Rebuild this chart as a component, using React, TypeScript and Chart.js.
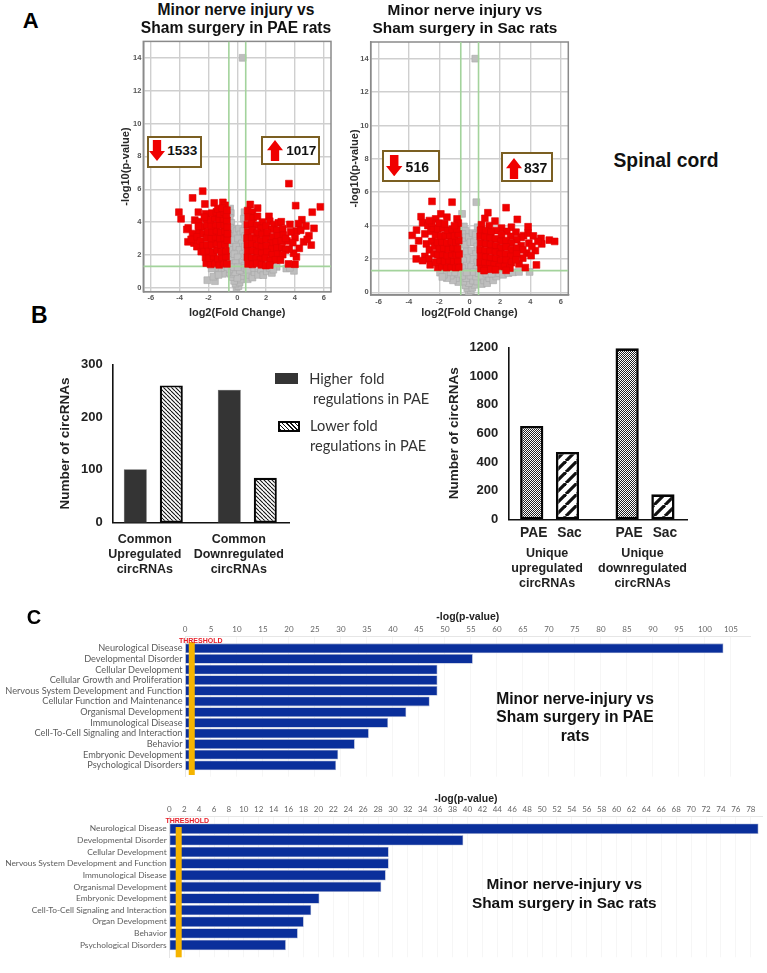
import React, { useEffect, useRef } from "react";
import { Chart, registerables } from "chart.js";

Chart.register(...registerables);

type Pt = [number, number];

// ---------- Panel A: volcano plots (log2 fold change, -log10 p) ----------
const logFcCut = 0.585;
const pCut = 1.3;

const paeDown: Pt[] = [
  [-2.4, 5.88], [-3.1, 5.47], [-2.25, 5.1], [-1.6, 5.17], [-1.0, 5.2], [-0.85, 5.02], [-2.7, 4.6], [-4.05, 4.6], [-3.9, 4.2],
  [-3.4, 3.65], [-3.5, 3.55], [-3.42, 2.8], [-2.95, 4.12], [-2.65, 4.02], [-3.1, 3.3], [-3.0, 2.72], [-2.8, 2.5], [-2.65, 3.4],
  [-2.2, 4.5], [-2.42, 3.72], [-2.5, 2.2], [-3.2, 2.95], [-2.78, 3.1], [-2.55, 2.85], [-2.7, 3.75], [-2.35, 3.3], [-2.38, 2.55],
  [-2.15, 1.5], [-1.85, 1.42], [-1.55, 1.48], [-1.25, 1.4], [-0.95, 1.5], [-0.72, 1.45],
  [-2.2, 1.85], [-1.95, 1.8], [-1.65, 1.9], [-1.35, 1.78], [-1.05, 1.85], [-0.78, 1.9],
  [-2.3, 2.2], [-2.0, 2.25], [-1.7, 2.15], [-1.4, 2.3], [-1.1, 2.2], [-0.8, 2.25],
  [-2.1, 2.62], [-1.78, 2.6], [-1.45, 2.7], [-1.15, 2.6], [-0.85, 2.65],
  [-2.12, 3.05], [-1.8, 3.0], [-1.5, 3.1], [-1.2, 3.0], [-0.9, 3.05], [-0.7, 2.9],
  [-2.05, 3.42], [-1.75, 3.4], [-1.45, 3.48], [-1.15, 3.38], [-0.85, 3.45], [-0.68, 3.3],
  [-2.1, 3.82], [-1.8, 3.78], [-1.5, 3.85], [-1.2, 3.8], [-0.9, 3.82], [-0.7, 3.7],
  [-2.15, 4.2], [-1.85, 4.15], [-1.55, 4.25], [-1.25, 4.18], [-0.95, 4.2], [-0.72, 4.1],
  [-1.75, 4.55], [-1.45, 4.62], [-1.2, 4.5], [-0.9, 4.6], [-0.75, 4.45], [-1.35, 4.8], [-1.05, 4.85], [-0.72, 4.72], [-2.28, 4.3]
];

const paeUp: Pt[] = [
  [3.58, 6.34], [5.76, 4.93], [5.2, 4.6], [4.05, 5.0], [0.9, 5.07], [1.41, 4.85], [2.2, 4.35], [4.48, 4.14], [4.76, 3.76],
  [5.32, 3.62], [4.97, 3.17], [5.13, 2.6], [3.65, 3.86], [4.25, 3.9], [4.1, 1.88], [4.0, 1.43], [3.55, 1.45], [4.6, 2.8],
  [4.85, 2.95], [4.3, 2.4], [3.9, 2.1], [3.6, 2.35], [4.1, 3.45], [4.0, 3.05], [3.7, 3.4], [4.4, 3.5], [3.45, 2.85], [3.85, 2.75],
  [0.72, 4.7], [1.05, 4.6], [0.75, 4.3], [1.1, 4.25], [1.4, 4.35], [1.75, 4.0], [2.25, 4.05], [2.55, 3.85], [2.85, 3.95], [3.05, 4.02],
  [0.7, 3.85], [1.0, 3.9], [1.35, 3.8], [1.65, 3.62], [2.0, 3.75], [2.4, 3.55], [2.75, 3.5], [3.15, 3.6],
  [0.72, 3.42], [1.05, 3.5], [1.38, 3.35], [1.72, 3.25], [2.08, 3.35], [2.45, 3.1], [2.8, 3.15], [3.2, 3.2],
  [0.68, 3.02], [1.0, 3.05], [1.3, 2.95], [1.65, 2.85], [2.0, 2.95], [2.35, 2.72], [2.7, 2.78], [3.05, 2.85], [3.35, 3.0],
  [0.7, 2.62], [1.02, 2.65], [1.35, 2.55], [1.68, 2.48], [2.02, 2.55], [2.4, 2.35], [2.75, 2.42], [3.1, 2.45], [3.35, 2.3],
  [0.72, 2.22], [1.05, 2.25], [1.38, 2.15], [1.7, 2.1], [2.05, 2.15], [2.42, 2.0], [2.8, 2.05], [3.15, 2.02],
  [0.7, 1.85], [1.0, 1.82], [1.32, 1.78], [1.62, 1.72], [1.95, 1.8], [2.3, 1.65], [2.65, 1.7], [3.0, 1.68],
  [0.75, 1.45], [1.05, 1.42], [1.35, 1.48], [1.68, 1.4], [1.98, 1.35], [2.25, 1.38]
];

const paeNs: Pt[] = [
  [0.37, 14.0], [-0.5, 4.82], [-0.45, 4.55], [-0.52, 4.25], [-0.42, 3.95], [-0.5, 3.65], [-0.55, 3.2], [-0.42, 3.0], [-0.5, 2.6],
  [-0.38, 2.3], [-0.52, 1.95], [-0.3, 1.7], [-0.5, 1.45], [-0.18, 3.55], [-0.05, 3.45], [0.1, 3.6], [0.22, 3.25], [-0.2, 2.9],
  [0.05, 3.0], [0.32, 2.7], [-0.08, 2.5], [0.15, 2.3], [0.4, 2.05], [-0.2, 2.05], [0.02, 1.85], [0.35, 1.55], [-0.12, 1.5],
  [0.5, 4.6], [0.45, 4.2], [0.55, 3.85], [0.42, 3.45], [0.55, 3.15], [0.52, 2.5], [0.55, 1.9], [0.5, 1.35],
  [-0.05, 0.02], [0.08, 0.1], [-0.12, 0.25], [0.16, 0.32], [-0.22, 0.42], [0.25, 0.5], [-0.32, 0.65], [0.35, 0.72], [0.0, 0.6],
  [-0.45, 0.85], [0.48, 0.95], [-0.15, 0.95], [0.18, 1.05], [-0.55, 1.12], [0.55, 1.22], [-0.3, 1.25], [0.02, 1.25],
  [-0.7, 0.92], [-0.85, 1.15], [-1.0, 0.85], [-1.15, 1.2], [-1.35, 1.1], [-1.55, 1.22], [-1.78, 1.17], [-2.08, 0.46], [-1.55, 0.4], [-1.66, 0.67],
  [-1.3, 0.78], [0.72, 0.52], [0.85, 0.78], [1.05, 0.62], [1.2, 0.95], [1.45, 0.78], [1.65, 1.1], [1.8, 0.77], [2.05, 1.0], [2.4, 0.9], [2.25, 1.2],
  [2.73, 1.27], [2.5, 1.1], [3.4, 1.17], [3.93, 1.03], [3.65, 1.22], [1.0, 1.2], [0.7, 1.1]
];

const sacDown: Pt[] = [
  [-2.48, 5.45], [-1.16, 5.4], [-1.9, 4.7], [-3.2, 4.53], [-1.5, 4.5], [-0.83, 4.4], [-2.24, 4.4], [-3.1, 4.17], [-3.5, 3.73],
  [-3.78, 3.41], [-3.36, 3.09], [-3.7, 2.63], [-3.52, 2.0], [-2.75, 4.0], [-2.95, 3.5], [-2.55, 3.65], [-2.85, 2.9],
  [-2.5, 3.05], [-2.65, 2.55], [-2.95, 2.15], [-2.7, 2.0], [-2.6, 1.65], [-3.1, 1.9], [-2.35, 2.3], [-2.3, 2.75],
  [-2.1, 1.5], [-1.82, 1.55], [-1.52, 1.48], [-1.22, 1.52], [-0.92, 1.48], [-0.72, 1.52],
  [-2.25, 1.8], [-1.95, 1.92], [-1.65, 1.85], [-1.35, 1.9], [-1.05, 1.85], [-0.78, 1.9],
  [-2.1, 2.25], [-1.78, 2.28], [-1.48, 2.2], [-1.18, 2.28], [-0.88, 2.22], [-0.7, 2.3],
  [-2.0, 2.62], [-1.7, 2.65], [-1.4, 2.58], [-1.1, 2.68], [-0.8, 2.62],
  [-2.12, 3.0], [-1.82, 3.02], [-1.5, 2.98], [-1.2, 3.05], [-0.9, 3.0], [-0.72, 3.1],
  [-2.25, 3.42], [-1.9, 3.38], [-1.6, 3.4], [-1.3, 3.42], [-1.0, 3.4], [-0.75, 3.5],
  [-2.4, 3.85], [-2.1, 3.8], [-1.75, 3.85], [-1.45, 3.72], [-1.15, 3.78], [-0.85, 3.8],
  [-2.0, 4.15], [-1.65, 4.1], [-0.75, 4.15], [-1.0, 4.0], [-2.5, 4.15], [-2.65, 4.3]
];

const sacUp: Pt[] = [
  [2.4, 5.07], [1.2, 4.77], [3.14, 4.37], [1.0, 4.43], [1.67, 4.27], [3.85, 3.93], [5.25, 3.13], [5.6, 3.05], [4.7, 3.23],
  [4.75, 2.9], [4.4, 1.64], [3.67, 1.48], [4.33, 2.5], [2.75, 3.9], [2.1, 3.85], [3.85, 3.55], [4.2, 3.38], [4.5, 3.05],
  [3.9, 2.95], [4.1, 2.75], [3.75, 2.35], [4.05, 2.2], [3.5, 2.05], [3.25, 1.7], [3.55, 3.4],
  [0.78, 4.05], [1.3, 4.0], [1.75, 3.7], [2.45, 3.65], [3.05, 3.6], [3.4, 3.3],
  [0.72, 3.72], [1.05, 3.7], [1.4, 3.6], [2.1, 3.45], [2.7, 3.35], [3.1, 3.15],
  [0.7, 3.35], [1.0, 3.3], [1.35, 3.25], [1.7, 3.2], [2.05, 3.05], [2.4, 3.1], [2.75, 2.95], [3.4, 2.8],
  [0.72, 2.95], [1.05, 2.9], [1.38, 2.85], [1.72, 2.8], [2.05, 2.65], [2.4, 2.72], [2.75, 2.55], [3.1, 2.65], [3.5, 2.55],
  [0.7, 2.55], [1.02, 2.5], [1.35, 2.45], [1.7, 2.4], [2.02, 2.28], [2.38, 2.3], [2.72, 2.15], [3.1, 2.3],
  [0.72, 2.15], [1.05, 2.1], [1.38, 2.05], [1.72, 2.0], [2.05, 1.9], [2.4, 1.92], [2.75, 1.78], [3.05, 1.95],
  [0.7, 1.78], [1.0, 1.75], [1.32, 1.7], [1.62, 1.65], [1.95, 1.55], [2.3, 1.55], [2.65, 1.45],
  [0.75, 1.42], [1.05, 1.4], [1.38, 1.38], [1.7, 1.35], [2.4, 1.32], [0.95, 1.3]
];

const sacNs: Pt[] = [
  [0.37, 14.0], [0.44, 5.4], [-0.5, 4.7], [0.53, 3.9], [-0.38, 3.95], [-0.28, 3.7], [-0.48, 3.5], [-0.25, 3.3], [-0.5, 3.05],
  [-0.3, 2.85], [-0.05, 3.3], [0.2, 3.55], [0.4, 3.45], [0.05, 3.0], [0.28, 3.0], [0.5, 2.75], [-0.5, 2.35], [-0.2, 2.45], [0.12, 2.5],
  [0.42, 2.3], [-0.08, 2.05], [-0.42, 1.9], [0.25, 2.0], [0.5, 1.8], [-0.2, 1.6], [0.1, 1.55], [0.45, 1.4], [-0.5, 1.45],
  [-0.06, 0.05], [0.08, 0.12], [-0.16, 0.25], [0.18, 0.28], [-0.28, 0.42], [0.32, 0.45], [-0.05, 0.55], [0.22, 0.7], [-0.42, 0.65],
  [0.5, 0.65], [-0.22, 0.85], [0.05, 1.0], [0.42, 0.95], [-0.5, 0.98], [-0.2, 1.2], [0.28, 1.22], [0.6, 1.15],
  [-0.75, 0.62], [-0.9, 0.85], [-1.1, 0.72], [-1.25, 1.0], [-1.5, 0.85], [-0.75, 1.12], [-1.0, 1.2], [-1.4, 1.2], [-1.7, 1.05], [-1.95, 1.18], [-1.8, 0.92],
  [0.8, 0.5], [0.95, 0.72], [1.15, 0.55], [1.3, 0.85], [1.55, 0.72], [1.75, 0.95], [0.8, 1.0], [1.1, 1.12], [1.45, 1.12], [1.95, 1.15], [2.2, 1.05], [2.55, 1.15],
  [2.85, 1.2], [3.25, 1.22], [3.95, 1.22]
];

// ---------- Panel B ----------
const commonCategories: string[][] = [
  ["Common", "Upregulated", "circRNAs"],
  ["Common", "Downregulated", "circRNAs"]
];
const higherInPae = [101, 252];
const lowerInPae = [260, 85];
const commonTicks = [0, 100, 200, 300];

const uniqueCategories: string[][] = [
  ["Unique", "upregulated", "circRNAs"],
  ["Unique", "downregulated", "circRNAs"]
];
const uniquePae = [651, 1193];
const uniqueSac = [470, 174];

// ---------- Panel C ----------
const paeTerms = [
  "Neurological Disease", "Developmental Disorder", "Cellular Development", "Cellular Growth and Proliferation",
  "Nervous System Development and Function", "Cellular Function and Maintenance", "Organismal Development",
  "Immunological Disease", "Cell-To-Cell Signaling and Interaction", "Behavior", "Embryonic Development", "Psychological Disorders"
];
const paeLogP = [103.5, 55.3, 48.5, 48.5, 48.5, 47, 42.5, 39, 35.3, 32.6, 29.4, 29];

const sacTerms = [
  "Neurological Disease", "Developmental Disorder", "Cellular Development", "Nervous System Development and Function",
  "Immunological Disease", "Organismal Development", "Embryonic Development", "Cell-To-Cell Signaling and Interaction",
  "Organ Development", "Behavior", "Psychological Disorders"
];
const sacLogP = [79, 39.4, 29.4, 29.4, 29, 28.4, 20.1, 19, 18, 17.2, 15.6];

const thresholdValue = 1.3;

const SANS = "'Liberation Sans', Arial, sans-serif";
const IPA = "Lato, sans-serif";

// ---------- helpers ----------
function makeTile(size: number, draw: (c: CanvasRenderingContext2D) => void): CanvasPattern {
  const t = document.createElement("canvas");
  t.width = size;
  t.height = size;
  const c = t.getContext("2d")!;
  c.fillStyle = "#fff";
  c.fillRect(0, 0, size, size);
  draw(c);
  return document.createElement("canvas").getContext("2d")!.createPattern(t, "repeat")!;
}
function diagonal(size: number, width: number, down: boolean) {
  return makeTile(size, (c) => {
    c.strokeStyle = "#111";
    c.lineWidth = width;
    for (let k = -1; k <= 1; k++) {
      c.beginPath();
      if (down) {
        c.moveTo(k * size, 0);
        c.lineTo(k * size + size, size);
      } else {
        c.moveTo(k * size, size);
        c.lineTo(k * size + size, 0);
      }
      c.stroke();
    }
  });
}
function checker() {
  return makeTile(2, (c) => {
    c.fillStyle = "#222";
    c.fillRect(0, 0, 1, 1);
    c.fillRect(1, 1, 1, 1);
  });
}

// Puts the category bands where the figure has them inside the plot area.
const bandWindow = (start: number, range: number) => (scale: any) => {
  scale._startValue = start;
  scale._valueRange = range;
};

// Fixes the thickness of an axis box, and stops labels from squeezing the plot.
const fixedSize = (prop: "width" | "height", v: number) => (scale: any) => {
  scale[prop] = v;
  scale.paddingLeft = 0;
  scale.paddingRight = 0;
  scale.paddingTop = 0;
  scale.paddingBottom = 0;
};

const titlePad = (center: number, size: number) => ({ top: center - (size * 1.2) / 2, bottom: 0 });

// Closes the plot box on all four sides.
const plotFrame = {
  id: "plotFrame",
  beforeDatasetsDraw(chart: any, _a: any, opts: any) {
    if (!opts || !opts.color) return;
    const { ctx, chartArea: a } = chart;
    ctx.save();
    ctx.strokeStyle = opts.color;
    ctx.lineWidth = opts.width;
    ctx.strokeRect(a.left, a.top, a.right - a.left, a.bottom - a.top);
    ctx.restore();
  }
};

// Draws dataset labels beneath each bar (PAE / Sac).
const barNames = {
  id: "barNames",
  afterDatasetsDraw(chart: any, _a: any, opts: any) {
    if (!opts || !opts.show) return;
    const { ctx } = chart;
    ctx.save();
    ctx.font = `bold ${opts.size}px ${SANS}`;
    ctx.fillStyle = "#222";
    ctx.textAlign = "center";
    ctx.textBaseline = "middle";
    chart.data.datasets.forEach((ds: any, i: number) => {
      chart.getDatasetMeta(i).data.forEach((bar: any) => {
        ctx.fillText(ds.label, bar.x + opts.dx, chart.chartArea.bottom + opts.dy);
      });
    });
    ctx.restore();
  }
};

// Orange IPA threshold marker.
const thresholdMark = {
  id: "thresholdMark",
  afterDatasetsDraw(chart: any, _a: any, opts: any) {
    if (!opts || opts.value === undefined) return;
    const { ctx, chartArea } = chart;
    const px = chart.scales.x.getPixelForValue(opts.value);
    ctx.save();
    ctx.fillStyle = "#f5b400";
    ctx.fillRect(px - 3, chartArea.top + opts.top, 6, chartArea.bottom - chartArea.top - opts.top - opts.bottom);
    ctx.font = `bold 7px ${SANS}`;
    ctx.fillStyle = "#e8202a";
    ctx.textAlign = "center";
    ctx.textBaseline = "middle";
    ctx.fillText("THRESHOLD", px + opts.labelDx, chartArea.top + opts.labelY);
    ctx.restore();
  }
};

function useChart(build: () => any) {
  const ref = useRef<HTMLCanvasElement | null>(null);
  useEffect(() => {
    const chart = new Chart(ref.current!, build());
    return () => chart.destroy();
  }, []);
  return ref;
}

function ChartBox({ left, top, width, height, build, blur }: any) {
  const ref = useChart(build);
  return (
    <canvas
      ref={ref}
      width={width}
      height={height}
      style={{ position: "absolute", left, top, width, height, display: "block", filter: blur ? `blur(${blur}px)` : undefined }}
    />
  );
}

function Txt({ x, y, size, children, color, font, weight, align }: any) {
  const tx = align === "left" ? "0" : "-50%";
  return (
    <div
      style={{
        position: "absolute",
        left: x,
        top: y,
        transform: `translate(${tx},-50%)`,
        fontFamily: font || SANS,
        fontWeight: weight || "bold",
        fontSize: size,
        color: color || "#111",
        whiteSpace: "nowrap",
        lineHeight: 1.2
      }}
    >
      {children}
    </div>
  );
}

function Arrow({ x, y, w, h, up }: any) {
  const shape = up
    ? `${w / 2},0 ${w},${h * 0.48} ${w * 0.76},${h * 0.48} ${w * 0.76},${h} ${w * 0.24},${h} ${w * 0.24},${h * 0.48} 0,${h * 0.48}`
    : `${w * 0.24},0 ${w * 0.76},0 ${w * 0.76},${h * 0.52} ${w},${h * 0.52} ${w / 2},${h} 0,${h * 0.52} ${w * 0.24},${h * 0.52}`;
  return (
    <svg style={{ position: "absolute", left: x, top: y }} width={w} height={h}>
      <polygon points={shape} fill="#f00000" />
    </svg>
  );
}

function CountBox({ x, y, w, h }: any) {
  return (
    <div
      style={{
        position: "absolute",
        left: x,
        top: y,
        width: w,
        height: h,
        boxSizing: "border-box",
        border: "2px solid #7b5f22",
        background: "#fff"
      }}
    />
  );
}

// ---------- chart builders ----------
function volcano(down: Pt[], up: Pt[], ns: Pt[], g: any) {
  const asXY = (a: Pt[]) => a.map(([x, y]) => ({ x, y }));
  const xMin = -6.52, xMax = 6.5, yMin = g.yMin, yMax = 15;
  const green = (data: any[]) => ({
    type: "line", data, borderColor: "#a3d39c", borderWidth: 1.6, pointRadius: 0, order: 2, showLine: true, parsing: false
  });
  const square = (data: any[], fill: string, stroke: string, order: number) => ({
    type: "scatter", data, backgroundColor: fill, borderColor: stroke, borderWidth: 0.6,
    pointStyle: "rect", pointRadius: 4.8, order
  });
  return {
    type: "scatter",
    plugins: [plotFrame],
    data: {
      datasets: [
        square(asXY(ns), "#bebebe", "#a8a8a8", 3),
        green([{ x: -logFcCut, y: yMin }, { x: -logFcCut, y: yMax }]),
        green([{ x: logFcCut, y: yMin }, { x: logFcCut, y: yMax }]),
        green([{ x: xMin, y: pCut }, { x: xMax, y: pCut }]),
        square(asXY(down), "#f00000", "#e00000", 1),
        square(asXY(up), "#f00000", "#e00000", 1)
      ]
    },
    options: {
      animation: false,
      responsive: false,
      layout: { padding: g.padding },
      plugins: { legend: { display: false }, tooltip: { enabled: false }, plotFrame: { color: "#8a8a8a", width: 1.5 } },
      scales: {
        x: {
          type: "linear", min: xMin, max: xMax, afterFit: fixedSize("height", g.xH),
          border: { display: true, color: "#8a8a8a", width: 1.5 },
          grid: { color: "#cfcfcf", lineWidth: 1.4, drawTicks: false },
          ticks: { stepSize: 2, includeBounds: false, padding: 2, maxRotation: 0, color: "#555", font: { family: SANS, size: 7.5, weight: "bold" } },
          title: { display: true, text: "log2(Fold Change)", color: "#2a2a2a", font: { family: SANS, size: 11, weight: "bold" }, padding: titlePad(g.xTitle, 11) }
        },
        y: {
          type: "linear", min: yMin, max: yMax, afterFit: fixedSize("width", g.yW),
          border: { display: true, color: "#8a8a8a", width: 1.5 },
          grid: { color: "#cfcfcf", lineWidth: 1.4, drawTicks: false },
          ticks: { stepSize: 2, includeBounds: false, padding: 2, color: "#555", font: { family: SANS, size: 7.5, weight: "bold" } },
          title: { display: true, text: g.yText, color: "#2a2a2a", font: { family: SANS, size: 11, weight: "bold" }, padding: titlePad(g.yTitle, 11) }
        }
      }
    }
  };
}

function commonBars() {
  return {
    type: "bar",
    data: {
      labels: commonCategories,
      datasets: [
        { label: "Higher fold regulations in PAE", data: higherInPae, backgroundColor: "#343434", borderColor: "#555", borderWidth: 0.5, borderSkipped: false, barPercentage: 0.64, categoryPercentage: 0.766 },
        { label: "Lower fold regulations in PAE", data: lowerInPae, backgroundColor: diagonal(4, 1.1, true), borderColor: "#050505", borderWidth: 2.2, borderSkipped: false, barPercentage: 0.64, categoryPercentage: 0.766 }
      ]
    },
    options: {
      animation: false,
      responsive: false,
      layout: { padding: { left: 0, right: 10.7, top: 9.3, bottom: 0 } },
      plugins: { legend: { display: false }, tooltip: { enabled: false } },
      scales: {
        x: {
          type: "category", afterFit: fixedSize("height", 67.3), afterBuildTicks: bandWindow(-0.432, 1.879),
          border: { color: "#111", width: 1.6 },
          grid: { display: false, drawTicks: true, tickColor: "#111", tickLength: 4, tickWidth: 1.6 },
          ticks: { autoSkip: false, maxRotation: 0, padding: 5, labelOffset: -8.5, color: "#222", font: { family: SANS, size: 12.5, weight: "bold" } }
        },
        y: {
          min: 0, max: 300, afterFit: fixedSize("width", 57.7),
          afterBuildTicks: (s: any) => { s.ticks = commonTicks.map((value) => ({ value })); },
          border: { color: "#111", width: 1.6 },
          grid: { display: false, drawTicks: true, tickColor: "#111", tickLength: 7, tickWidth: 1.6 },
          ticks: { padding: 3, color: "#222", font: { family: SANS, size: 13, weight: "bold" } },
          title: { display: true, text: "Number of circRNAs", color: "#222", font: { family: SANS, size: 13.5, weight: "bold" }, padding: titlePad(10, 13.5) }
        }
      }
    }
  };
}

function uniqueBars() {
  return {
    type: "bar",
    plugins: [barNames],
    data: {
      labels: uniqueCategories,
      datasets: [
        { label: "PAE", data: uniquePae, backgroundColor: checker(), borderColor: "#050505", borderWidth: 2.6, borderSkipped: false, barPercentage: 0.65, categoryPercentage: 0.75 },
        { label: "Sac", data: uniqueSac, backgroundColor: diagonal(11, 3.2, false), borderColor: "#050505", borderWidth: 2.6, borderSkipped: false, barPercentage: 0.65, categoryPercentage: 0.75 }
      ]
    },
    options: {
      animation: false,
      responsive: false,
      layout: { padding: { left: 0, right: 7.7, top: 7.3, bottom: 0 } },
      plugins: { legend: { display: false }, tooltip: { enabled: false }, barNames: { show: true, size: 13.8, dx: 2, dy: 14 } },
      scales: {
        x: {
          type: "category", afterFit: fixedSize("height", 75.7), afterBuildTicks: bandWindow(-0.433, 1.876),
          border: { color: "#111", width: 1.6 },
          grid: { display: false, drawTicks: false },
          ticks: { autoSkip: false, maxRotation: 0, padding: 27, labelOffset: -2.5, color: "#222", font: { family: SANS, size: 12.5, weight: "bold" } }
        },
        y: {
          min: 0, max: 1200, afterFit: fixedSize("width", 63.3),
          border: { color: "#111", width: 1.6 },
          grid: { display: false, drawTicks: true, tickColor: "#111", tickLength: 7, tickWidth: 1.6 },
          ticks: { stepSize: 200, padding: 3, color: "#222", font: { family: SANS, size: 13, weight: "bold" }, callback: (v: any) => String(v) },
          title: { display: true, text: "Number of circRNAs", color: "#222", font: { family: SANS, size: 13.5, weight: "bold" }, padding: titlePad(9, 13.5) }
        }
      }
    }
  };
}

function ipaBars(terms: string[], values: number[], g: any) {
  return {
    type: "bar",
    plugins: [thresholdMark],
    data: {
      labels: terms,
      datasets: [{ label: "-log(p-value)", data: values, backgroundColor: "#0a2f9b", borderColor: "#a9b3d3", borderWidth: 0.8, borderSkipped: false, barThickness: g.bar }]
    },
    options: {
      indexAxis: "y",
      animation: false,
      responsive: false,
      layout: { padding: g.padding },
      plugins: { legend: { display: false }, tooltip: { enabled: false }, thresholdMark: g.threshold },
      scales: {
        x: {
          position: "top", type: "linear", min: 0, max: g.xMax, afterFit: fixedSize("height", g.xH),
          border: { display: true, color: "#e6e6e6" },
          grid: { color: "#f6f6f6", drawTicks: false },
          ticks: { stepSize: g.step, includeBounds: false, padding: g.tickPad, maxRotation: 0, color: "#666", font: { family: IPA, size: 8 } },
          title: { display: true, text: "-log(p-value)", color: "#222", font: { family: SANS, size: 10.5, weight: "bold" }, padding: titlePad(g.xTitle, 10.5) }
        },
        y: {
          type: "category", afterFit: fixedSize("width", g.yW), afterBuildTicks: bandWindow(g.start, g.range),
          border: { display: true, color: "#e6e6e6" },
          grid: { display: false, drawTicks: false },
          ticks: { autoSkip: false, padding: g.labelPad, color: "#5c5c5c", font: { family: IPA, size: g.font } }
        }
      }
    }
  };
}

// ---------- page ----------
export default function App() {
  return (
    <div style={{ position: "absolute", left: 0, top: 0, width: 767, height: 973, background: "#fff", overflow: "hidden" }}>
      <ChartBox
        left={100} top={36} width={240} height={284} blur={0.45}
        build={() => volcano(paeDown, paeUp, paeNs, {
          yMin: -0.24, xH: 28.3, yW: 43.3, xTitle: 12.3, yTitle: 25.7, yText: "-log10(p-value)",
          padding: { left: 0, right: 9, top: 4, bottom: 0 }
        })}
      />
      <ChartBox
        left={335} top={36} width={240} height={284} blur={0.45}
        build={() => volcano(sacDown, sacUp, sacNs, {
          yMin: -0.16, xH: 25, yW: 35.7, xTitle: 8.3, yTitle: 20, yText: "-log10(p-value)",
          padding: { left: 0, right: 6.7, top: 6, bottom: 0 }
        })}
      />
      <ChartBox left={55} top={355} width={245} height={235} build={commonBars} />
      <ChartBox left={445} top={340} width={250} height={255} build={uniqueBars} />
      <ChartBox
        left={0} top={610} width={767} height={172}
        build={() => ipaBars(paeTerms, paeLogP, {
          bar: 9.2, xMax: 108.8, step: 5, xH: 26.7, xTitle: 7, tickPad: 2.7, yW: 185, labelPad: 2.5, font: 9.2,
          start: -1.09, range: 13.16, padding: { left: 0, right: 16.3, top: 0, bottom: 5.3 },
          threshold: { value: thresholdValue, top: 5.3, bottom: 1.7, labelDx: 9, labelY: 4 }
        })}
      />
      <ChartBox
        left={0} top={792} width={767} height={170}
        build={() => ipaBars(sacTerms, sacLogP, {
          bar: 9.8, xMax: 79.6, step: 2, xH: 24, xTitle: 7, tickPad: 2, yW: 169.3, labelPad: 2.6, font: 8.4,
          start: -1.092, range: 12.15, padding: { left: 0, right: 4.3, top: 0, bottom: 4.7 },
          threshold: { value: thresholdValue - 0.04, top: 11, bottom: 0, labelDx: 8.5, labelY: 4.7 }
        })}
      />

      {/* Panel letters */}
      <Txt x={30.7} y={21.3} size={22} color="#000">A</Txt>
      <Txt x={39.3} y={315.8} size={23} color="#000">B</Txt>
      <Txt x={34} y={617} size={20} color="#000">C</Txt>

      {/* Volcano headings */}
      <Txt x={236} y={9.5} size={15.6}>Minor nerve injury vs</Txt>
      <Txt x={236} y={28.3} size={15.6}>Sham surgery in PAE rats</Txt>
      <Txt x={465} y={9.5} size={15.4}>Minor nerve injury vs</Txt>
      <Txt x={465} y={28.3} size={15.4}>Sham surgery in Sac rats</Txt>
      <Txt x={666} y={160.7} size={19.3}>Spinal cord</Txt>

      {/* Count boxes */}
      <CountBox x={146.7} y={135.7} w={55.3} h={32} />
      <Arrow x={149.3} y={140.3} w={16} h={21} />
      <Txt x={182.3} y={151} size={13.6}>1533</Txt>
      <CountBox x={261.3} y={135.7} w={59} h={29.3} />
      <Arrow x={266.7} y={140} w={16} h={21.3} up />
      <Txt x={301.3} y={151} size={13.6}>1017</Txt>
      <CountBox x={381.7} y={150} w={58} h={32} />
      <Arrow x={386.3} y={154.7} w={16.4} h={21.3} />
      <Txt x={417.3} y={166.7} size={14}>516</Txt>
      <CountBox x={501} y={152.3} w={51.7} h={29.7} />
      <Arrow x={506} y={157.7} w={16} h={21.6} up />
      <Txt x={535.7} y={168.3} size={14}>837</Txt>

      {/* Panel B legend */}
      <div style={{ position: "absolute", left: 275, top: 372.7, width: 22.7, height: 11, background: "#343434" }} />
      <div
        style={{
          position: "absolute", left: 278, top: 420.7, width: 22, height: 11, boxSizing: "border-box", border: "2px solid #050505",
          background: "repeating-linear-gradient(45deg,#111 0,#111 1px,#fff 1px,#fff 3px)"
        }}
      />
      <Txt x={309.3} y={378.7} size={14.6} font="Lato, sans-serif" weight="normal" color="#333" align="left">Higher&nbsp;&nbsp;fold</Txt>
      <Txt x={313} y={399} size={14.6} font="Lato, sans-serif" weight="normal" color="#333" align="left">regulations in PAE</Txt>
      <Txt x={310} y={425.7} size={14.6} font="Lato, sans-serif" weight="normal" color="#333" align="left">Lower fold</Txt>
      <Txt x={310} y={446} size={14.6} font="Lato, sans-serif" weight="normal" color="#333" align="left">regulations in PAE</Txt>

      {/* Panel C captions */}
      <Txt x={575} y={699} size={15.6}>Minor nerve-injury vs</Txt>
      <Txt x={575} y={717.4} size={15.6}>Sham surgery in PAE</Txt>
      <Txt x={575} y={736} size={15.6}>rats</Txt>
      <Txt x={564.3} y={884.3} size={15.4}>Minor nerve-injury vs</Txt>
      <Txt x={564.3} y={902.7} size={15.4}>Sham surgery in Sac rats</Txt>
    </div>
  );
}
